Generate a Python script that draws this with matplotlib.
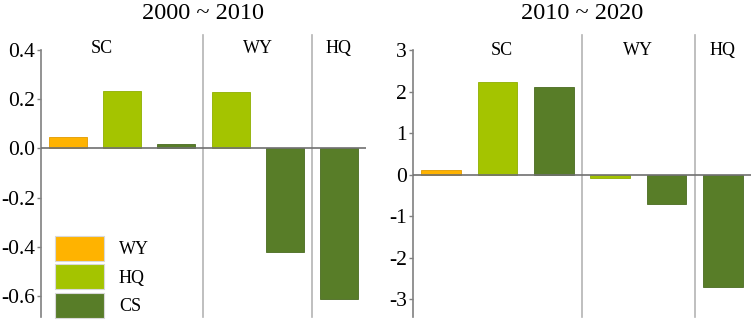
import matplotlib.pyplot as plt
from matplotlib.patches import Patch

plt.rcParams["font.family"] = ["Liberation Serif", "DejaVu Serif"]

# data
groups = ["SC", "SC", "SC", "WY", "WY", "HQ"]
bar_types = ["WY", "HQ", "CS", "HQ", "CS", "CS"]
vals_2000_2010 = [0.045, 0.233, 0.02, 0.23, -0.42, -0.61]
vals_2010_2020 = [0.12, 2.24, 2.12, -0.09, -0.72, -2.70]
left_ticks = [-0.6, -0.4, -0.2, 0.0, 0.2, 0.4]
left_ticklabels = ["-0.6", "-0.4", "-0.2", "0.0", "0.2", "0.4"]
right_ticks = [-3, -2, -1, 0, 1, 2, 3]
right_ticklabels = ["-3", "-2", "-1", "0", "1", "2", "3"]

colors = {"WY": "#FFB300", "HQ": "#A4C400", "CS": "#587D28"}
edges = {"WY": "#E09A00", "HQ": "#8FAE00", "CS": "#4A6B20"}


def draw_panel(ax, values, title, ylim, ticks, ticklabels, sep_top, label_y, label_x):
    x = list(range(len(values)))
    ax.bar(
        x,
        values,
        width=0.7,
        color=[colors[t] for t in bar_types],
        edgecolor=[edges[t] for t in bar_types],
        linewidth=0.6,
        zorder=2
    )

    ax.axhline(0, color="#707070", linewidth=1.2, zorder=3)

    # group separators (between SC|WY and WY|HQ)
    for xs in [2.5, 4.5]:
        ax.plot([xs, xs], [ylim[0], sep_top], color="#B4B4B4",
                linewidth=1.2, clip_on=False, zorder=1)

    for name, lx in zip(["SC", "WY", "HQ"], label_x):
        ax.text(lx, label_y, name, ha="center", va="center",
                fontsize=13, clip_on=False)

    ax.set_xlim(-0.5, len(values) - 0.5)
    ax.set_ylim(*ylim)
    ax.set_yticks(ticks)
    ax.set_yticklabels(ticklabels)
    ax.set_xticks([])

    for side in ["top", "right", "bottom"]:
        ax.spines[side].set_visible(False)
    ax.spines["left"].set_color("#808080")
    ax.spines["left"].set_linewidth(1.2)
    ax.tick_params(axis="y", length=3, width=1, color="#808080",
                   labelsize=15.5, pad=1.5)

    ax.set_title(title, fontsize=17.5, pad=22)


fig = plt.figure(figsize=(7.54, 3.26), dpi=100)

ax1 = fig.add_axes([41 / 754, 9 / 326, 325 / 754, 267 / 326])
ax2 = fig.add_axes([413 / 754, 9 / 326, 338 / 754, 267 / 326])

draw_panel(ax1, vals_2000_2010, "2000 ~ 2010", (-0.685, 0.40),
           left_ticks, left_ticklabels, 0.46, 0.405, [0.63, 3.5, 5.0])
draw_panel(ax2, vals_2010_2020, "2010 ~ 2020", (-3.43, 3.0),
           right_ticks, right_ticklabels, 3.36, 2.99, [1.08, 3.5, 5.0])

handles = [Patch(facecolor=colors[k], edgecolor="#D8D8D8", linewidth=0.8)
           for k in ["WY", "HQ", "CS"]]
ax1.legend(
    handles,
    ["WY", "HQ", "CS"],
    loc="lower left",
    bbox_to_anchor=(0.02, -0.03),
    frameon=False,
    fontsize=13,
    handlelength=2.75,
    handleheight=1.75,
    handletextpad=0.8,
    labelspacing=0.2,
    borderaxespad=0
)

fig.savefig("out.png", dpi=100)
